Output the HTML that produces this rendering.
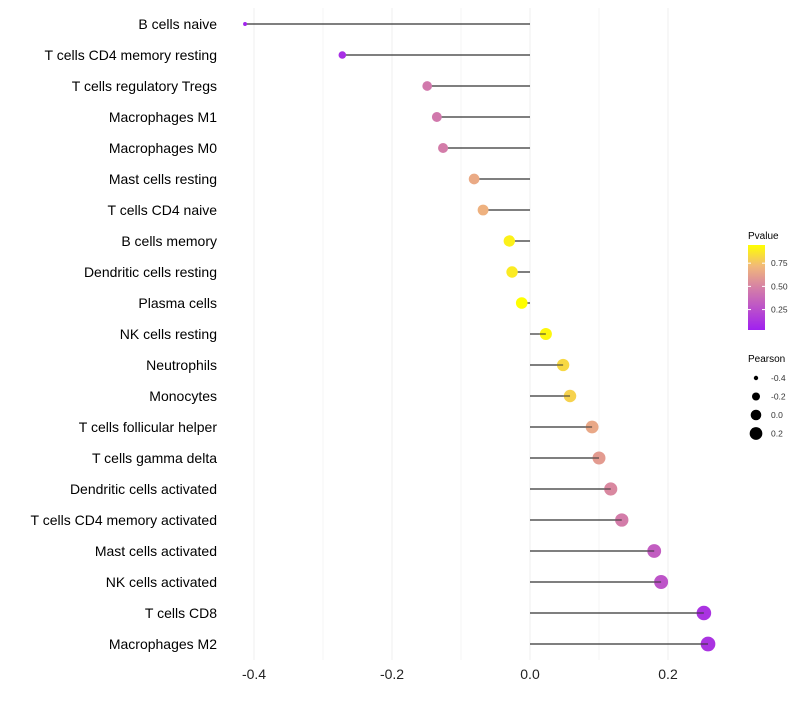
<!DOCTYPE html>
<html><head><meta charset="utf-8"><style>
body{margin:0;background:#fff;font-family:"Liberation Sans",sans-serif}
</style></head><body>
<svg id="chart" width="800" height="700" xmlns="http://www.w3.org/2000/svg" font-family="Liberation Sans, sans-serif">
<defs><linearGradient id="pg" x1="0" y1="1" x2="0" y2="0">
<stop offset="0" stop-color="#a020f0"/><stop offset="0.5" stop-color="#d580a6"/><stop offset="0.75" stop-color="#f1b87a"/><stop offset="1" stop-color="#ffff00"/></linearGradient></defs>
<g id="grid"></g><g id="marks"></g><g id="labels"></g>
<g>
<text x="748" y="239" font-size="10">Pvalue</text>
<rect x="748" y="245" width="17" height="85" fill="url(#pg)"/>
<g id="cbticks"></g>
</g>
<g id="sizeleg">
<text x="748" y="362" font-size="10">Pearson</text>
</g>
</svg>
<script>
const categories=["B cells naive","T cells CD4 memory resting","T cells regulatory  Tregs ","Macrophages M1","Macrophages M0","Mast cells resting","T cells CD4 naive","B cells memory","Dendritic cells resting","Plasma cells","NK cells resting","Neutrophils","Monocytes","T cells follicular helper","T cells gamma delta","Dendritic cells activated","T cells CD4 memory activated","Mast cells activated","NK cells activated","T cells CD8","Macrophages M2"];
const pearson=[-0.413,-0.272,-0.149,-0.135,-0.126,-0.081,-0.068,-0.030,-0.026,-0.012,0.023,0.048,0.058,0.090,0.100,0.117,0.133,0.180,0.190,0.252,0.258];
const pvalue=[0.05,0.1,0.45,0.45,0.47,0.66,0.69,0.9,0.88,0.95,0.92,0.82,0.8,0.65,0.6,0.52,0.47,0.32,0.28,0.12,0.12];
const xTicks=[-0.4,-0.2,0.0,0.2];
const xTickLabels=["-0.4","-0.2","0.0","0.2"];
const cbTicks=[0.25,0.5,0.75];
const sizeLegend=[-0.4,-0.2,0.0,0.2];
const NS="http://www.w3.org/2000/svg";
const x=v=>530+v*690, y=i=>24+i*31;
const cy=p=>330-(p-0.03)/0.916*85;
const rad=v=>Math.sqrt(Math.max(1,4+(v+0.41)/0.67*50));
function col(p){const t=Math.max(0,Math.min(1,(p-0.03)/0.916));
const st=[[0,[160,32,240]],[0.5,[213,128,166]],[0.75,[241,184,122]],[1,[255,255,0]]];
for(let k=1;k<st.length;k++){if(t<=st[k][0]){const a=st[k-1],b=st[k],f=(t-a[0])/(b[0]-a[0]);return `rgb(${a[1].map((c,j)=>Math.round(c+(b[1][j]-c)*f)).join(',')})`;}}return 'rgb(255,255,0)';}
function mk(t,a,p){const e=document.createElementNS(NS,t);for(const k in a)e.setAttribute(k,a[k]);p.appendChild(e);return e;}
const grid=document.getElementById('grid'),marks=document.getElementById('marks'),labels=document.getElementById('labels');
for(let v=-0.5;v<=0.31;v+=0.1){const X=x(v);if(X<235||X>730)continue;
const g=mk('line',{x1:X,x2:X,y1:8,y2:660,stroke:'#efefef','stroke-width':Math.abs(Math.round(v*10))%2===0?1:0.6},grid);
}
xTicks.forEach((v,i)=>{const t=mk('text',{x:x(v),y:679,'font-size':14,'text-anchor':'middle',fill:'#222'},labels);t.textContent=xTickLabels[i];
});
categories.forEach((c,i)=>{
const t=mk('text',{x:217,y:y(i)+5,'font-size':14,'text-anchor':'end',fill:'#000','xml:space':'preserve'},labels);t.textContent=c;

const l=mk('line',{x1:x(0),x2:x(pearson[i]),y1:y(i),y2:y(i),stroke:'#333','stroke-width':1.2},marks);

const d=mk('circle',{cx:x(pearson[i]),cy:y(i),r:rad(pearson[i]),fill:col(pvalue[i])},marks);

const l2=mk('line',{x1:x(pearson[i])+(pearson[i]>0?-rad(pearson[i]):0),x2:x(pearson[i]),y1:y(i),y2:y(i),stroke:'#333','stroke-width':1},marks);
});
const cbt=document.getElementById('cbticks');
cbTicks.forEach(p=>{const Y=cy(p);mk('line',{x1:748,x2:751,y1:Y,y2:Y,stroke:'#fff'},cbt);mk('line',{x1:762,x2:765,y1:Y,y2:Y,stroke:'#fff'},cbt);
const t=mk('text',{x:771,y:Y+3,'font-size':8.5,fill:'#333'},cbt);t.textContent=p.toFixed(2);
});
const sl=document.getElementById('sizeleg');
sizeLegend.forEach((v,i)=>{const Y=378+i*18.5;const c=mk('circle',{cx:756,cy:Y,r:Math.max(2.2,rad(v)*0.9),fill:'#000'},sl);

const t=mk('text',{x:771,y:Y+3,'font-size':8.5,fill:'#333'},sl);t.textContent=v.toFixed(1);
});
</script>
</body></html>
